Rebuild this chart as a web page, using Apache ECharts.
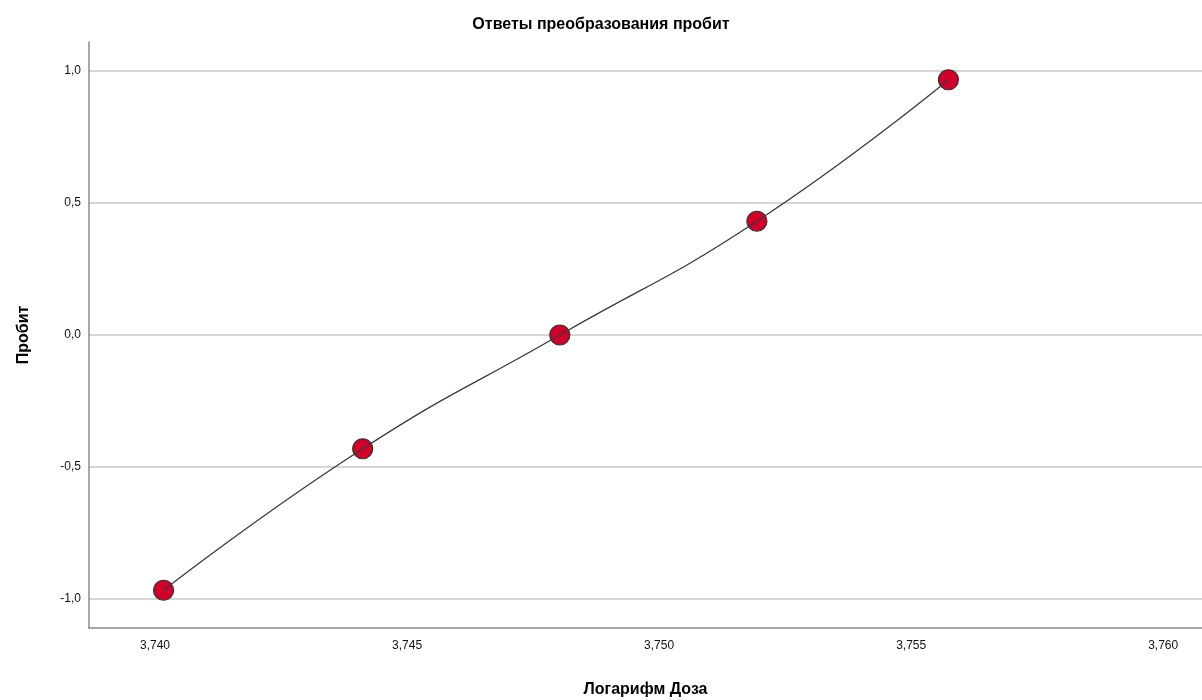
<!DOCTYPE html>
<html>
<head>
<meta charset="utf-8">
<script src="https://cdn.jsdelivr.net/npm/echarts@6/dist/echarts.min.js"></script>
<style>html,body{margin:0;padding:0;background:#fff}#c{width:1202px;height:700px}</style>
</head>
<body>
<div id="c"></div>
<script>
const logDose = [3.74017, 3.74412, 3.74803, 3.75194, 3.75574];
const probit = [-0.967, -0.431, 0.0, 0.431, 0.967];
const xTicks = [3.740, 3.745, 3.750, 3.755, 3.760];
const yTicks = [-1.0, -0.5, 0.0, 0.5, 1.0];
const titleText = 'Ответы преобразования пробит';
const xName = 'Логарифм Доза';
const yName = 'Пробит';

const pts = logDose.map((x, i) => [x, probit[i]]);
const fmt = (v, d) => v.toFixed(d).replace('.', ',');
const font = 'Liberation Sans, Arial, sans-serif';

const chart = echarts.init(document.getElementById('c'), null, {renderer: 'canvas'});
chart.setOption({
  backgroundColor: '#fff',
  animation: false,
  title: {
    text: titleText, left: 'center', top: 12,
    textStyle: {fontFamily: font, fontSize: 16, fontWeight: 'bold', color: '#000'}
  },
  grid: {left: 89, right: 0, top: 42, bottom: 72, containLabel: false, outerBoundsMode: 'none'},
  xAxis: {
    type: 'value', min: 3.73869, max: 3.76077,
    name: xName, nameLocation: 'middle', nameGap: 54,
    nameTextStyle: {fontFamily: font, fontSize: 16, fontWeight: 'bold', color: '#000'},
    axisLine: {show: true, onZero: false, lineStyle: {color: '#8a8a8a', width: 1.5}},
    axisTick: {show: false, customValues: xTicks},
    axisLabel: {customValues: xTicks, formatter: v => fmt(v, 3), fontFamily: font, fontSize: 12, color: '#111', margin: 12},
    splitLine: {show: false}
  },
  yAxis: {
    type: 'value', min: -1.11, max: 1.11,
    name: yName, nameLocation: 'middle', nameGap: 57,
    nameTextStyle: {fontFamily: font, fontSize: 16, fontWeight: 'bold', color: '#000'},
    axisLine: {show: true, onZero: false, lineStyle: {color: '#8a8a8a', width: 1.5}},
    axisTick: {show: false, customValues: yTicks},
    axisLabel: {customValues: yTicks, formatter: v => fmt(v, 1), fontFamily: font, fontSize: 12, color: '#111', margin: 8},
    splitLine: {show: true, lineStyle: {color: '#c8c8c8', width: 1.5}}
  },
  series: [
    {
      type: 'scatter', data: pts, symbolSize: 20, z: 2,
      itemStyle: {color: '#d0002a', borderColor: '#333', borderWidth: 1.2, opacity: 1}
    },
    {
      type: 'line', data: pts, smooth: 0.5, showSymbol: false, z: 3,
      lineStyle: {color: '#3a3a3a', width: 1.3}
    }
  ]
});
</script>
</body>
</html>
